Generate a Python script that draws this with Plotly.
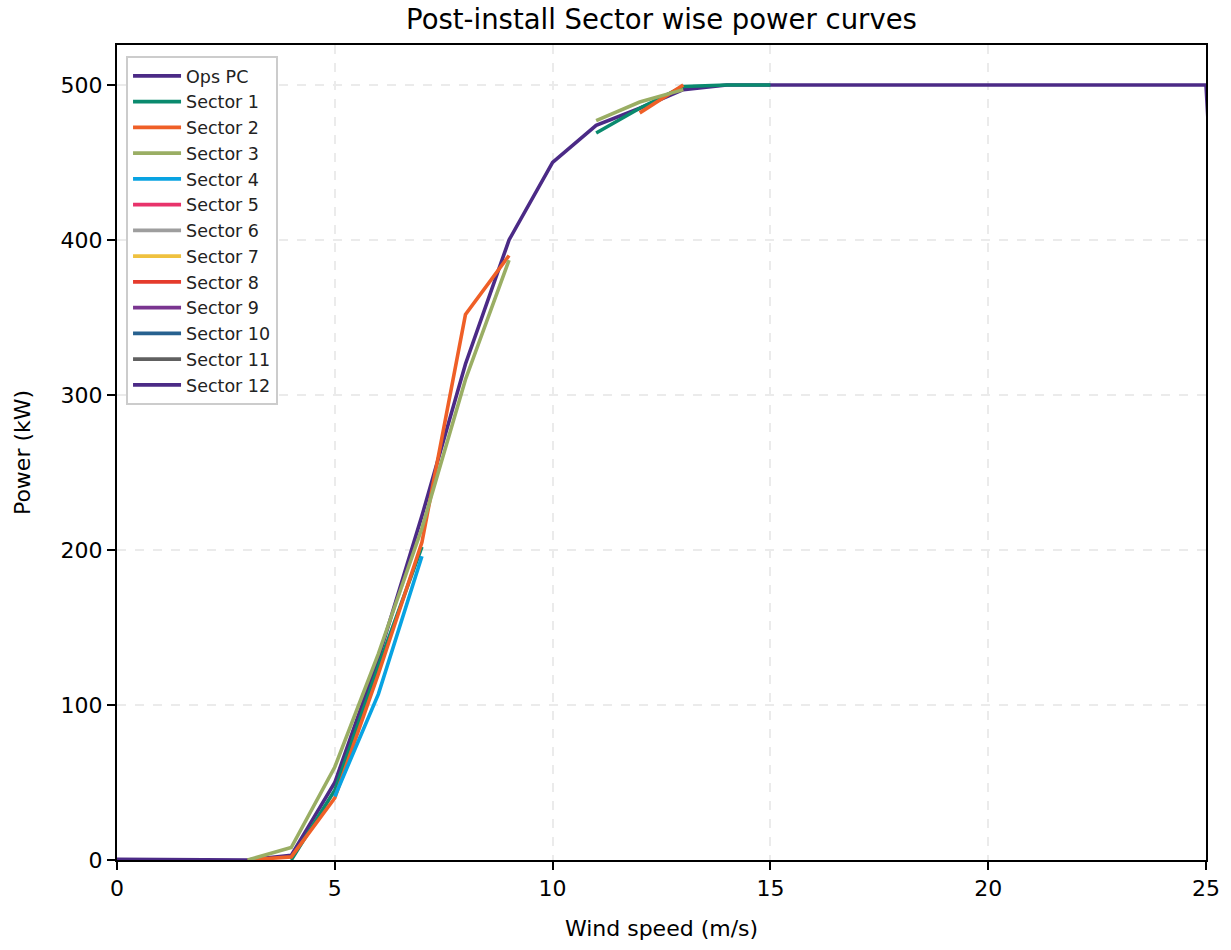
import plotly.graph_objects as go

# Wind speed bins (m/s)
wind_speed = list(range(0, 27))

# Operational power curve (kW)
ops_pc = [0.5, 0.5, 0, 0, 3, 50, 130, 222, 320, 400, 450, 474, 485, 497, 500,
          500, 500, 500, 500, 500, 500, 500, 500, 500, 500, 500, 0]

# Sector-wise binned power (kW); None where a bin has no data
sector_1 = [None, None, None, None, 0, 45, 125, 202, None, None, None, 469, 485, 499, 500, 500]
sector_2 = [None, None, None, 0, 2, 40, 120, 205, 352, 390, None, None, 482, 500]
sector_3 = [None, None, None, 0, 8, 60, 133, 214, 310, 387, None, 477, 489, 497]
sector_4 = [None, None, None, None, None, 41, 107, 196]
sector_5 = []
sector_6 = []
sector_7 = []
sector_8 = []
sector_9 = []
sector_10 = []
sector_11 = []
sector_12 = []

series_names = ["Ops PC"] + [f"Sector {i}" for i in range(1, 13)]
series_values = [ops_pc, sector_1, sector_2, sector_3, sector_4, sector_5, sector_6,
                 sector_7, sector_8, sector_9, sector_10, sector_11, sector_12]
series_colors = ["#4b2a86", "#0a8a6e", "#ef5f27", "#9aae64", "#08a3e2", "#e8336b",
                 "#9e9e9e", "#efc13f", "#e53b2c", "#7a3590", "#27618f", "#606060",
                 "#4b2a86"]

x_ticks = [0, 5, 10, 15, 20, 25]
y_ticks = [0, 100, 200, 300, 400, 500]

fig = go.Figure()
for name, vals, color in zip(series_names, series_values, series_colors):
    xs = wind_speed[:len(vals)] if vals else [None]
    ys = vals if vals else [None]
    fig.add_trace(go.Scatter(
        x=xs, y=ys, mode="lines", name=name,
        line=dict(color=color, width=3.6),
        connectgaps=False,
    ))

axis_common = dict(
    showline=True, linecolor="black", linewidth=2, mirror=True,
    ticks="outside", ticklen=8, tickwidth=2, tickcolor="black",
    showgrid=True, gridcolor="#ebebeb", gridwidth=1.5, griddash="dash",
    zeroline=False,
    tickfont=dict(family="DejaVu Sans", size=22, color="black"),
    title_font=dict(family="DejaVu Sans", size=22, color="black"),
)

fig.update_xaxes(range=[0, 25], tickvals=x_ticks, title_text="Wind speed (m/s)",
                 title_standoff=20, **axis_common)
fig.update_yaxes(range=[0, 525.8], tickvals=y_ticks, title_text="Power (kW)",
                 title_standoff=24, **axis_common)

fig.update_layout(
    width=1231, height=950,
    margin=dict(l=117, r=25, t=45, b=90),
    paper_bgcolor="white", plot_bgcolor="white",
    title=dict(text="Post-install Sector wise power curves",
               xref="paper", x=0.5, xanchor="center",
               y=0.98, yanchor="middle",
               font=dict(family="DejaVu Sans", size=27.5, color="black")),
    legend=dict(
        x=0.0083, y=0.9865, xanchor="left", yanchor="top",
        bgcolor="white", bordercolor="#cccccc", borderwidth=2,
        font=dict(family="DejaVu Sans", size=17.5, color="#222222"),
        itemwidth=48, tracegroupgap=0,
    ),
    showlegend=True,
)

fig.write_html("out.html")
